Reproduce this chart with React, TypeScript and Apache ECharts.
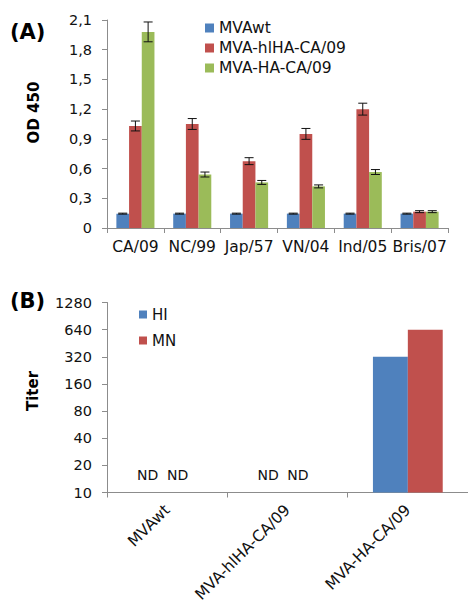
import React, { useEffect, useRef } from "react";
import * as echarts from "echarts";

const strains = ["CA/09", "NC/99", "Jap/57", "VN/04", "Ind/05", "Bris/07"];
const seriesNamesA = ["MVAwt", "MVA-hlHA-CA/09", "MVA-HA-CA/09"];
const mvaWt = [0.145, 0.145, 0.145, 0.145, 0.145, 0.145];
const mvaWtErr = [0.005, 0.005, 0.005, 0.005, 0.005, 0.005];
const hlHA = [1.03, 1.05, 0.675, 0.95, 1.2, 0.165];
const hlHAErr = [0.05, 0.055, 0.035, 0.055, 0.06, 0.01];
const haCA = [1.98, 0.54, 0.46, 0.42, 0.565, 0.165];
const haCAErr = [0.1, 0.025, 0.02, 0.015, 0.025, 0.01];

const vaccines = ["MVAwt", "MVA-hlHA-CA/09", "MVA-HA-CA/09"];
const hiTiter: (number | string)[] = ["ND", "ND", 320];
const mnTiter: (number | string)[] = ["ND", "ND", 640];
const titerTicks = [10, 20, 40, 80, 160, 320, 640, 1280];

const COLORS = ["#4F81BD", "#C0504D", "#9BBB59"];
const FONT = "DejaVu Sans";
const AXIS = "#8c8c8c";
const CAT_GAP_A = 0.33;

export default function App() {
  const ref = useRef<HTMLDivElement>(null);
  useEffect(() => {
    if (!ref.current) return;
    const chart = echarts.init(ref.current, undefined, { renderer: "svg" });

    const valsA = [mvaWt, hlHA, haCA];
    const errsA = [mvaWtErr, hlHAErr, haCAErr];

    const barSeriesA = seriesNamesA.map((name, i) => ({
      name,
      type: "bar",
      xAxisIndex: 0,
      yAxisIndex: 0,
      barGap: "0%",
      barCategoryGap: "33%",
      itemStyle: { color: COLORS[i] },
      data: valsA[i],
    }));

    const errSeriesA = seriesNamesA.map((name, i) => ({
      name: name + "-err",
      type: "custom",
      xAxisIndex: 0,
      yAxisIndex: 0,
      z: 5,
      encode: { x: 0, y: [1, 2] },
      data: valsA[i].map((v, k) => [k, v - errsA[i][k], v + errsA[i][k]]),
      renderItem: (params: any, api: any) => {
        const idx = api.value(0);
        const lo = api.coord([idx, api.value(1)]);
        const hi = api.coord([idx, api.value(2)]);
        const band = api.size([1, 0])[0];
        const groupW = band * (1 - CAT_GAP_A);
        const barW = groupW / 3;
        const x = lo[0] - groupW / 2 + barW * (i + 0.5);
        const cap = 4.5;
        const style = { stroke: "#111", lineWidth: 1 };
        return {
          type: "group",
          children: [
            { type: "line", shape: { x1: x, y1: lo[1], x2: x, y2: hi[1] }, style },
            { type: "line", shape: { x1: x - cap, y1: lo[1], x2: x + cap, y2: lo[1] }, style },
            { type: "line", shape: { x1: x - cap, y1: hi[1], x2: x + cap, y2: hi[1] }, style },
          ],
        };
      },
    }));

    const toBarData = (arr: (number | string)[], offset: number) =>
      arr.map((v) =>
        v === "ND"
          ? {
              value: 0,
              label: {
                show: true,
                position: "top",
                distance: 11,
                offset: [offset, 0],
                formatter: "ND",
                fontFamily: FONT,
                fontSize: 14,
                color: "#111",
              },
            }
          : { value: Math.log2((v as number) / 10) }
      );

    const option: any = {
      animation: false,
      backgroundColor: "#fff",
      textStyle: { fontFamily: FONT, color: "#111" },
      grid: [
        { left: 107, top: 20, width: 341, height: 208 },
        { left: 107, top: 302.5, width: 361, height: 190 },
      ],
      legend: [
        {
          data: seriesNamesA,
          orient: "vertical",
          left: 200,
          top: 15,
          itemWidth: 9,
          itemHeight: 9,
          itemGap: 4,
          icon: "rect",
          textStyle: { fontFamily: FONT, fontSize: 15.5, color: "#111" },
        },
        {
          data: ["HI", "MN"],
          orient: "vertical",
          left: 134,
          top: 302,
          itemWidth: 8,
          itemHeight: 8,
          itemGap: 11,
          icon: "rect",
          textStyle: { fontFamily: FONT, fontSize: 15, color: "#111" },
        },
      ],
      xAxis: [
        {
          type: "category",
          gridIndex: 0,
          data: strains,
          axisLine: { lineStyle: { color: AXIS } },
          axisTick: { show: true, length: 5, interval: 0, lineStyle: { color: AXIS } },
          axisLabel: { interval: 0, fontFamily: FONT, fontSize: 15.5, color: "#111", margin: 11 },
        },
        {
          type: "category",
          gridIndex: 1,
          data: vaccines,
          axisLine: { lineStyle: { color: AXIS } },
          axisTick: { show: true, length: 5, interval: 0, lineStyle: { color: AXIS } },
          axisLabel: { interval: 0, rotate: 45, fontFamily: FONT, fontSize: 15.5, color: "#111", margin: 15 },
        },
      ],
      yAxis: [
        {
          type: "value",
          gridIndex: 0,
          min: 0,
          max: 2.1,
          interval: 0.3,
          splitLine: { show: false },
          axisLine: { show: true, lineStyle: { color: AXIS } },
          axisTick: { show: true, length: 5, lineStyle: { color: AXIS } },
          axisLabel: {
            fontFamily: FONT,
            fontSize: 14.5,
            color: "#111",
            margin: 15,
            formatter: (v: number) => (Math.abs(v) < 1e-9 ? "0" : v.toFixed(1).replace(".", ",")),
          },
        },
        {
          type: "value",
          gridIndex: 1,
          min: 0,
          max: titerTicks.length - 1,
          interval: 1,
          splitLine: { show: false },
          axisLine: { show: true, lineStyle: { color: AXIS } },
          axisTick: { show: true, length: 5, lineStyle: { color: AXIS } },
          axisLabel: {
            fontFamily: FONT,
            fontSize: 14.5,
            color: "#111",
            margin: 15,
            formatter: (v: number) => String(titerTicks[Math.round(v)]),
          },
        },
      ],
      series: [
        ...barSeriesA,
        ...errSeriesA,
        {
          name: "HI",
          type: "bar",
          xAxisIndex: 1,
          yAxisIndex: 1,
          barGap: "0%",
          barCategoryGap: "42%",
          itemStyle: { color: COLORS[0] },
          data: toBarData(hiTiter, -2),
        },
        {
          name: "MN",
          type: "bar",
          xAxisIndex: 1,
          yAxisIndex: 1,
          barGap: "0%",
          barCategoryGap: "42%",
          itemStyle: { color: COLORS[1] },
          data: toBarData(mnTiter, -7),
        },
      ],
      graphic: [
        {
          type: "text",
          left: 10,
          top: 21,
          style: { text: "(A)", fontFamily: FONT, fontWeight: "bold", fontSize: 21, fill: "#000" },
        },
        {
          type: "text",
          left: 10,
          top: 290,
          style: { text: "(B)", fontFamily: FONT, fontWeight: "bold", fontSize: 21, fill: "#000" },
        },
        {
          type: "text",
          x: 34,
          y: 112.5,
          rotation: Math.PI / 2,
          style: {
            text: "OD 450",
            fontFamily: FONT,
            fontWeight: "bold",
            fontSize: 15,
            fill: "#000",
            align: "center",
            verticalAlign: "middle",
          },
        },
        {
          type: "text",
          x: 33,
          y: 391,
          rotation: Math.PI / 2,
          style: {
            text: "Titer",
            fontFamily: FONT,
            fontWeight: "bold",
            fontSize: 15,
            fill: "#000",
            align: "center",
            verticalAlign: "middle",
          },
        },
      ],
    };
    chart.setOption(option);
    return () => chart.dispose();
  }, []);
  return (
    <div
      ref={ref}
      style={{ position: "fixed", left: 0, top: 0, width: 468, height: 606, background: "#fff" }}
    />
  );
}
